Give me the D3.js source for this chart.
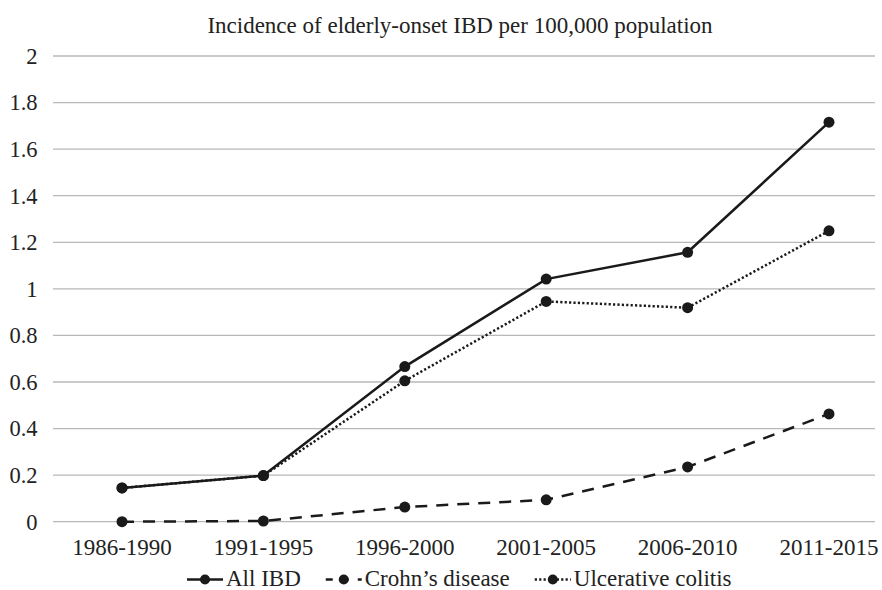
<!DOCTYPE html>
<html>
<head>
<meta charset="utf-8">
<script src="https://cdn.jsdelivr.net/npm/d3@7"></script>
<style>
  html, body { margin: 0; padding: 0; background: #fff; }
  svg { display: block; }
</style>
</head>
<body>
<svg id="chart" width="882" height="590"></svg>
<script>
const title = "Incidence of elderly-onset IBD per 100,000 population";
const categories = ["1986-1990", "1991-1995", "1996-2000", "2001-2005", "2006-2010", "2011-2015"];
const allIBD = [0.145, 0.198, 0.666, 1.042, 1.157, 1.716];
const crohns = [0.0, 0.003, 0.063, 0.094, 0.235, 0.463];
const ulcerativeColitis = [0.145, 0.198, 0.605, 0.946, 0.919, 1.249];
const yTicks = [0, 0.2, 0.4, 0.6, 0.8, 1, 1.2, 1.4, 1.6, 1.8, 2];

const series = [
  { name: "All IBD", values: allIBD, dash: null },
  { name: "Crohn\u2019s disease", values: crohns, dash: "12,9" },
  { name: "Ulcerative colitis", values: ulcerativeColitis, dash: "2.2,2.2" }
];

const FONT = "'Liberation Serif', 'DejaVu Serif', serif";
const plot = { left: 53, right: 875, top: 56, bottom: 521.7 };
const svg = d3.select("#chart");

const y = d3.scaleLinear().domain([0, 2]).range([plot.bottom, plot.top]);
const x = d3.scalePoint().domain(categories).range([122, 829]);

// gridlines
svg.append("g").selectAll("line").data(yTicks).join("line")
  .attr("x1", plot.left).attr("x2", plot.right)
  .attr("y1", d => y(d)).attr("y2", d => y(d))
  .attr("stroke", "#b8b8b8").attr("stroke-width", 1.3);

// y labels
svg.append("g").selectAll("text").data(yTicks).join("text")
  .attr("x", 37.5).attr("y", d => y(d) + 7.8)
  .attr("text-anchor", "end")
  .attr("font-family", FONT).attr("font-size", 22.5).attr("fill", "#222")
  .text(d => d3.format("~g")(d));

// x labels
svg.append("g").selectAll("text").data(categories).join("text")
  .attr("x", d => x(d)).attr("y", 555)
  .attr("text-anchor", "middle")
  .attr("font-family", FONT).attr("font-size", 23).attr("fill", "#222")
  .text(d => d);

// title
svg.append("text").attr("x", 460).attr("y", 33)
  .attr("text-anchor", "middle")
  .attr("font-family", FONT).attr("font-size", 23).attr("fill", "#222")
  .text(title);

// lines
const line = d3.line().x((d, i) => x(categories[i])).y(d => y(d));
const g = svg.append("g");
series.forEach(s => {
  g.append("path").datum(s.values)
    .attr("d", line)
    .attr("fill", "none").attr("stroke", "#1a1a1a")
    .attr("stroke-width", 2.5)
    .attr("stroke-dasharray", s.dash);
});
series.forEach(s => {
  g.selectAll(null).data(s.values).join("circle")
    .attr("cx", (d, i) => x(categories[i])).attr("cy", d => y(d))
    .attr("r", 5.5).attr("fill", "#1a1a1a");
});

// legend
const legY = 579.5;
const leg = svg.append("g");
let cx = 187;
series.forEach((s, i) => {
  const it = leg.append("g");
  it.append("line").attr("x1", cx).attr("x2", cx + 36)
    .attr("y1", legY).attr("y2", legY)
    .attr("stroke", "#1a1a1a").attr("stroke-width", 2.4)
    .attr("stroke-dasharray", s.dash ? (i === 1 ? "7,9" : "2.2,2.2") : null);
  it.append("circle").attr("cx", cx + 18).attr("cy", legY).attr("r", 5).attr("fill", "#1a1a1a");
  const t = it.append("text").attr("x", cx + 39).attr("y", 585.5)
    .attr("font-family", FONT).attr("font-size", 23).attr("fill", "#222")
    .text(s.name);
  const w = t.node().getComputedTextLength();
  cx = cx + 39 + w + 25;
});
</script>
</body>
</html>
